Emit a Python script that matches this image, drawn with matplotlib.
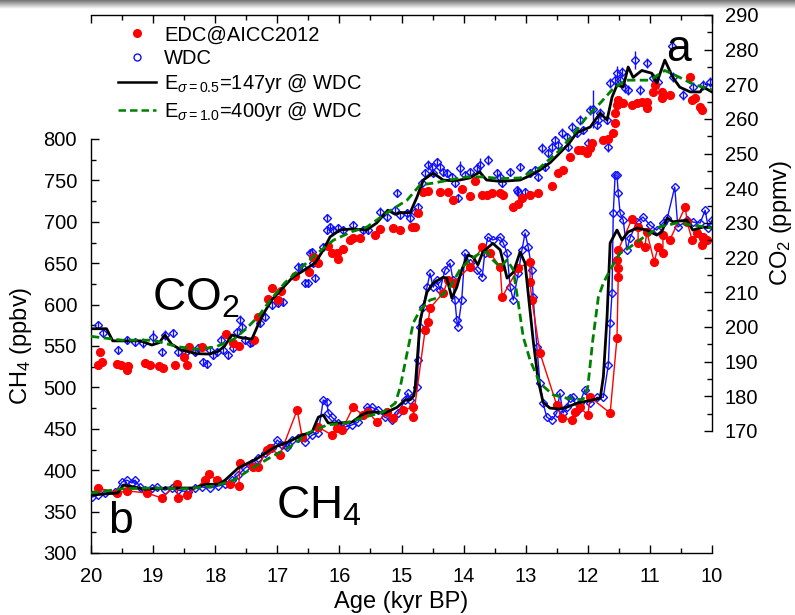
import numpy as np
import matplotlib
matplotlib.use("Agg")
import matplotlib.pyplot as plt
from matplotlib.lines import Line2D
from matplotlib.legend_handler import HandlerLine2D
from matplotlib.ticker import MultipleLocator

plt.rcParams['font.family'] = ['Liberation Sans', 'DejaVu Sans']
plt.rcParams['mathtext.fontset'] = 'custom'
plt.rcParams['mathtext.rm'] = 'Liberation Sans'
plt.rcParams['mathtext.it'] = 'Liberation Sans:italic'
plt.rcParams['mathtext.bf'] = 'Liberation Sans:bold'

# ---------------- CO2 data ----------------
co2_edc_age = [19.89, 19.86, 19.82, 19.58, 19.52, 19.42, 19.40, 19.13, 19.05, 18.90, 18.84, 18.65,
               18.50, 18.45, 18.42, 18.21, 17.83, 17.71, 17.62, 17.38, 17.31, 17.15, 17.09, 16.99,
               16.94, 16.72, 16.49, 16.42, 16.39, 16.34, 16.18, 16.12, 16.04, 16.02, 15.94, 15.83,
               15.78, 15.67, 15.43, 15.35, 15.14, 15.02, 14.83, 14.78, 14.73, 14.65, 14.57, 14.38,
               14.25, 14.17, 14.03, 13.90, 13.82, 13.70, 13.62, 13.54, 13.41, 13.37, 13.20, 13.12,
               13.06, 12.93, 12.80, 12.58, 12.48, 12.40, 12.29, 12.16, 12.10, 12.02, 11.96, 11.93,
               11.75, 11.68, 11.59, 11.56, 11.56, 11.53, 11.51, 11.43, 11.29, 11.21, 11.13, 11.05,
               11.05, 10.95, 10.92, 10.81, 10.81, 10.68, 10.35, 10.32, 10.27, 10.19, 10.16]
co2_edc_val = [189.0, 192.8, 190.0, 189.3, 189.0, 187.6, 188.7, 189.6, 189.0, 188.7, 188.2, 189.0,
               191.3, 189.0, 194.2, 194.2, 198.0, 195.4, 194.5, 196.2, 202.9, 208.0, 211.2, 207.8,
               210.4, 214.7, 215.9, 220.2, 219.9, 218.4, 223.4, 221.3, 221.3, 219.6, 222.5, 225.1,
               225.7, 225.7, 226.5, 228.3, 228.6, 228.0, 228.8, 228.8, 232.9, 238.9, 239.2, 238.9,
               238.9, 236.6, 239.8, 237.8, 242.1, 238.1, 238.1, 238.6, 238.6, 238.1, 234.5, 235.6,
               237.2, 238.1, 238.6, 240.7, 244.4, 245.3, 249.0, 251.0, 251.0, 250.2, 251.6, 253.1,
               253.9, 254.2, 256.0, 258.8, 261.7, 264.0, 265.5, 264.6, 264.0, 264.6, 264.9, 264.9,
               263.2, 267.8, 269.8, 267.8, 266.0, 266.9, 272.1, 265.5, 266.0, 263.5, 262.6]

co2_wdc_age = [19.89, 19.81, 19.57, 19.42, 19.29, 19.16, 19.00, 18.86, 18.81, 18.68, 18.60, 18.49,
               18.33, 18.28, 18.20, 18.13, 18.08, 18.04, 17.97, 17.91, 17.87, 17.79, 17.71, 17.65,
               17.60, 17.57, 17.52, 17.44, 17.41, 17.28, 17.20, 17.09, 16.99, 16.91, 16.67, 16.60,
               16.55, 16.51, 16.47, 16.44, 16.42, 16.39, 16.26, 16.20, 16.20, 16.15, 16.10, 16.02,
               15.94, 15.78, 15.62, 15.54, 15.35, 15.23, 15.10, 15.07, 15.02, 14.91, 14.86, 14.78,
               14.73, 14.67, 14.62, 14.57, 14.51, 14.49, 14.43, 14.38, 14.33, 14.27, 14.19, 14.14,
               14.09, 14.06, 13.98, 13.90, 13.79, 13.74, 13.61, 13.46, 13.41, 13.38, 13.25, 13.14,
               13.12, 13.09, 13.01, 12.93, 12.85, 12.80, 12.74, 12.69, 12.64, 12.58, 12.53, 12.48,
               12.42, 12.34, 12.32, 12.25, 12.18, 12.13, 12.08, 12.00, 11.96, 11.92, 11.85, 11.83,
               11.80, 11.69, 11.67, 11.64, 11.56, 11.53, 11.48, 11.45, 11.40, 11.35, 11.24, 11.16,
               11.05, 10.95, 10.87, 10.64, 10.63, 10.47, 10.31, 10.14, 10.03]
co2_wdc_val = [200.6, 198.3, 193.4, 196.2, 195.7, 195.4, 197.1, 192.8, 197.7, 198.3, 192.8, 192.5,
               192.8, 193.9, 189.9, 189.3, 193.4, 191.9, 192.8, 196.2, 193.4, 191.9, 193.9, 198.6,
               202.0, 200.0, 196.2, 195.4, 195.7, 201.2, 202.9, 206.3, 206.9, 207.2, 217.3, 217.3,
               212.7, 212.7, 221.3, 221.6, 218.5, 214.1, 223.1, 231.4, 228.0, 228.8, 228.0, 228.6,
               228.0, 229.4, 228.0, 228.0, 233.2, 231.7, 233.7, 238.6, 232.3, 232.9, 231.4, 233.2,
               234.6, 241.5, 244.4, 246.7, 246.1, 244.4, 247.6, 246.1, 244.7, 244.4, 243.3, 241.5,
               237.2, 245.9, 243.8, 244.7, 245.9, 246.7, 248.2, 244.4, 243.3, 241.5, 244.7, 239.5,
               238.9, 246.1, 238.9, 244.4, 245.3, 243.3, 251.6, 246.1, 250.2, 251.9, 253.9, 252.5,
               256.0, 254.8, 251.9, 257.7, 256.0, 259.7, 256.8, 253.1, 262.6, 262.9, 258.3, 259.7,
               261.7, 259.7, 251.9, 270.4, 271.2, 273.2, 271.2, 273.5, 269.0, 268.4, 277.0, 268.4,
               276.1, 271.8, 270.7, 281.0, 272.1, 266.9, 269.2, 269.8, 270.7]
co2_wdc_err = [1.2, 1.2, 1.2, 1.2, 1.2, 1.5, 2.0, 1.2, 1.5, 1.2, 1.2, 1.2,
               1.2, 1.2, 1.2, 1.2, 1.2, 1.2, 1.2, 1.5, 1.2, 1.2, 1.2, 1.2,
               1.5, 1.2, 1.2, 1.2, 1.2, 1.2, 1.2, 1.2, 1.2, 1.2, 1.5, 1.2,
               1.2, 1.2, 1.2, 1.2, 1.2, 1.2, 1.2, 1.2, 1.2, 1.2, 1.2, 1.2,
               1.2, 1.2, 1.2, 1.2, 1.5, 1.2, 1.2, 1.2, 1.2, 1.2, 1.2, 1.2,
               1.2, 1.2, 1.2, 1.5, 1.2, 1.2, 1.2, 1.2, 1.2, 1.2, 1.2, 1.2,
               1.2, 2.0, 1.2, 1.2, 1.5, 2.0, 1.5, 1.2, 1.2, 1.2, 1.2, 1.2,
               1.2, 1.2, 1.2, 1.2, 1.2, 1.2, 1.5, 1.2, 1.2, 1.5, 1.2, 1.2,
               1.5, 1.2, 1.2, 1.5, 1.2, 1.5, 1.2, 1.5, 1.5, 5.5, 1.2, 1.2,
               1.5, 1.2, 1.5, 1.5, 1.5, 2.0, 1.5, 1.5, 1.5, 1.5, 2.5, 1.5,
               1.5, 1.5, 2.0, 1.2, 1.5, 1.5, 1.5, 1.5, 1.5]

co2_e05_age = [20.0, 19.75, 19.65, 19.4, 19.2, 19.02, 18.9, 18.81, 18.7, 18.55, 18.3, 18.1, 17.95,
               17.85, 17.73, 17.6, 17.41, 17.3, 17.2, 17.09, 16.9, 16.75, 16.6, 16.39, 16.25, 16.15,
               15.99, 15.8, 15.56, 15.4, 15.22, 15.1, 15.02, 14.86, 14.75, 14.65, 14.49, 14.33, 14.2,
               14.06, 13.9, 13.74, 13.63, 13.4, 13.09, 12.95, 12.77, 12.6, 12.45, 12.3, 12.18, 11.96,
               11.8, 11.69, 11.61, 11.53, 11.43, 11.35, 11.27, 11.13, 10.97, 10.89, 10.76, 10.63,
               10.52, 10.35, 10.19, 10.14, 10.0]
co2_e05_val = [199.5, 199.5, 196.0, 196.0, 196.0, 194.8, 195.5, 197.7, 195.0, 193.4, 192.3, 192.2,
               193.0, 194.5, 197.7, 197.0, 196.5, 201.0, 204.5, 207.8, 211.5, 214.4, 216.0, 218.5,
               222.5, 226.0, 228.0, 228.3, 228.0, 230.0, 233.7, 232.5, 233.0, 233.0, 237.5, 242.4,
               244.4, 242.4, 242.2, 242.4, 243.0, 244.7, 242.4, 242.0, 242.4, 243.5, 245.3, 247.5,
               250.2, 253.0, 256.0, 257.7, 261.7, 259.7, 266.3, 269.8, 269.2, 275.0, 272.0, 274.0,
               273.2, 270.4, 277.0, 272.0, 269.2, 267.8, 267.8, 269.2, 267.8]

co2_e10_age = [20.0, 19.5, 19.0, 18.6, 18.3, 18.0, 17.7, 17.5, 17.31, 17.1, 16.88, 16.65, 16.44,
               16.1, 15.8, 15.56, 15.24, 14.91, 14.7, 14.49, 14.2, 13.95, 13.69, 13.4, 13.09, 12.77,
               12.45, 12.18, 12.0, 11.8, 11.61, 11.4, 11.2, 11.0, 10.76, 10.52, 10.3, 10.0]
co2_e10_val = [197.3, 196.2, 196.2, 194.3, 193.6, 194.2, 196.5, 199.5, 203.0, 208.0, 212.7, 216.5,
               220.0, 225.0, 227.5, 228.8, 232.9, 236.6, 241.0, 241.5, 242.5, 243.3, 243.3, 242.8,
               243.0, 246.0, 251.0, 256.8, 261.0, 264.6, 268.4, 271.2, 271.2, 271.2, 274.0, 272.0,
               270.0, 268.4]

# ---------------- CH4 data ----------------
ch4_edc_age = [19.89, 19.58, 19.42, 19.10, 18.86, 18.62, 18.60, 18.45, 18.16, 18.10, 17.97, 17.76,
               17.62, 17.60, 17.39, 17.31, 17.17, 17.12, 16.96, 16.68, 16.60, 16.34, 16.12, 16.04,
               15.96, 15.78, 15.62, 15.54, 15.39, 15.23, 15.14, 14.98, 14.81, 14.81, 14.62, 14.57,
               14.54, 14.33, 14.25, 14.17, 13.90, 13.70, 13.57, 13.41, 13.38, 13.12, 12.93, 12.93,
               12.90, 12.77, 12.50, 12.42, 12.25, 12.21, 12.13, 12.00, 11.96, 11.64, 11.53, 11.51,
               11.51, 11.53, 11.51, 11.29, 11.19, 11.19, 11.08, 11.05, 10.93, 10.87, 10.79, 10.79,
               10.68, 10.43, 10.40, 10.32, 10.24, 10.16, 10.14, 10.08]
ch4_edc_val = [378.5, 372.5, 375.0, 372.5, 366.4, 383.0, 366.4, 370.0, 388.0, 395.4, 388.0, 383.0,
               381.0, 408.7, 404.0, 404.0, 424.0, 426.8, 418.0, 472.7, 440.0, 452.0, 442.5, 451.0,
               448.5, 476.0, 466.7, 470.0, 458.0, 470.0, 463.0, 472.7, 476.0, 464.0, 569.0, 579.0,
               596.0, 614.0, 629.7, 626.0, 645.4, 669.6, 662.0, 645.4, 609.0, 644.0, 651.5, 627.0,
               605.6, 541.5, 478.7, 463.0, 460.6, 470.0, 476.0, 466.7, 488.0, 469.0, 559.7, 633.0,
               644.0, 654.0, 666.0, 703.0, 693.7, 674.4, 669.6, 687.7, 651.5, 669.6, 662.0, 684.0,
               678.0, 718.0, 699.8, 678.0, 686.5, 672.0, 681.6, 678.0]

ch4_wdc_age = [19.98, 19.89, 19.77, 19.61, 19.50, 19.42, 19.34, 19.29, 19.21, 19.13, 19.02, 18.94,
               18.81, 18.70, 18.60, 18.44, 18.33, 18.21, 18.08, 17.95, 17.84, 17.73, 17.63, 17.52,
               17.41, 17.31, 17.20, 17.09, 17.00, 16.92, 16.84, 16.76, 16.67, 16.55, 16.44, 16.34,
               16.26, 16.20, 16.18, 16.12, 16.02, 15.91, 15.80, 15.70, 15.56, 15.48, 15.38, 15.27,
               15.15, 15.06, 14.94, 14.90, 14.86, 14.75, 14.73, 14.70, 14.65, 14.59, 14.54, 14.49,
               14.43, 14.38, 14.30, 14.22, 14.17, 14.14, 14.11, 14.09, 14.03, 13.98, 13.90, 13.79,
               13.70, 13.66, 13.61, 13.53, 13.41, 13.36, 13.30, 13.25, 13.20, 13.12, 13.06, 13.01,
               12.96, 12.90, 12.88, 12.82, 12.77, 12.72, 12.66, 12.58, 12.50, 12.45, 12.40, 12.34,
               12.29, 12.24, 12.16, 12.13, 12.05, 11.96, 11.85, 11.75, 11.67, 11.64, 11.61, 11.59,
               11.56, 11.53, 11.51, 11.48, 11.43, 11.37, 11.32, 11.21, 11.11, 11.00, 10.89, 10.79,
               10.72, 10.60, 10.55, 10.40, 10.31, 10.19, 10.11, 10.06, 10.00]
ch4_wdc_val = [367.6, 370.0, 372.5, 373.7, 385.7, 388.0, 384.5, 388.0, 379.7, 376.0, 378.5, 379.7,
               376.0, 378.5, 376.0, 373.7, 378.5, 379.7, 378.5, 381.0, 383.0, 388.0, 394.0, 402.6,
               408.7, 414.7, 420.8, 426.8, 436.5, 430.4, 428.0, 436.5, 439.0, 434.0, 442.5, 445.0,
               484.8, 482.4, 469.0, 464.0, 457.0, 452.0, 454.6, 458.0, 476.0, 476.0, 472.7, 464.0,
               460.6, 469.0, 484.8, 493.0, 484.8, 500.5, 533.0, 573.0, 597.0, 621.0, 638.0, 621.0,
               629.7, 617.6, 641.8, 650.0, 629.7, 605.6, 581.4, 573.0, 605.6, 662.0, 650.0, 641.8,
               633.0, 662.0, 681.6, 678.0, 681.6, 674.4, 662.0, 621.0, 605.6, 638.0, 666.0, 686.5,
               669.6, 641.8, 609.0, 548.8, 505.0, 481.0, 464.0, 460.6, 469.0, 493.0, 469.0, 476.0,
               487.0, 488.0, 472.7, 481.0, 497.0, 481.0, 488.0, 488.0, 527.0, 577.8, 614.0, 710.6,
               756.5, 756.5, 734.8, 710.6, 702.0, 666.0, 680.4, 699.8, 705.8, 696.0, 690.0, 698.6,
               704.6, 742.0, 693.7, 702.0, 699.8, 698.6, 714.0, 692.5, 702.0]

ch4_e05_age = [20.0, 19.57, 19.52, 19.48, 19.32, 19.16, 18.76, 18.33, 18.16, 17.95, 17.84, 17.63,
               17.31, 17.04, 16.83, 16.6, 16.44, 16.34, 16.26, 16.18, 16.02, 15.8, 15.64, 15.54,
               15.38, 15.27, 15.07, 14.94, 14.86, 14.8, 14.78, 14.74, 14.7, 14.59, 14.49, 14.33,
               14.27, 14.19, 14.11, 14.03, 13.93, 13.85, 13.77, 13.69, 13.53, 13.41, 13.3, 13.2,
               13.09, 13.01, 12.96, 12.88, 12.8, 12.72, 12.61, 12.45, 12.34, 12.17, 11.92, 11.8,
               11.75, 11.69, 11.64, 11.53, 11.45, 11.35, 11.21, 11.05, 10.89, 10.81, 10.72, 10.63,
               10.4, 10.31, 10.14, 10.0]
ch4_e05_val = [370.0, 372.5, 378.0, 382.0, 380.0, 377.0, 378.5, 378.5, 383.0, 383.0, 388.0, 402.6,
               414.7, 428.0, 434.0, 442.5, 446.0, 464.0, 466.7, 457.0, 457.0, 458.0, 466.7, 470.0,
               470.0, 469.0, 476.0, 484.8, 485.0, 490.0, 500.0, 540.0, 581.0, 615.0, 626.0, 633.0,
               632.0, 608.0, 621.0, 642.0, 660.0, 657.5, 648.0, 663.5, 674.0, 666.0, 632.0, 639.0,
               663.5, 650.0, 614.0, 557.0, 509.0, 482.0, 475.0, 474.0, 476.0, 481.0, 485.0, 487.0,
               512.6, 585.0, 674.4, 690.0, 678.0, 687.7, 692.5, 690.0, 684.0, 687.7, 704.6, 700.0,
               702.0, 690.0, 693.7, 692.5]

ch4_e10_age = [20.0, 19.5, 19.0, 18.5, 18.0, 17.7, 17.4, 17.1, 16.8, 16.5, 16.2, 15.9, 15.6, 15.3,
               15.1, 15.02, 14.91, 14.81, 14.7, 14.54, 14.38, 14.22, 14.06, 13.9, 13.74, 13.62,
               13.53, 13.41, 13.3, 13.2, 13.12, 13.04, 12.93, 12.77, 12.56, 12.34, 12.08, 12.0,
               11.92, 11.83, 11.75, 11.64, 11.48, 11.32, 11.05, 10.84, 10.56, 10.31, 10.0]
ch4_e10_val = [372.5, 377.5, 378.5, 377.5, 381.0, 388.0, 402.6, 416.0, 428.0, 445.0, 454.6, 457.0,
               464.0, 470.0, 481.0, 500.5, 541.5, 578.0, 593.5, 605.5, 609.0, 621.0, 642.0, 654.0,
               662.0, 663.5, 654.0, 645.4, 654.0, 642.0, 602.0, 561.0, 533.0, 505.0, 491.0, 487.0,
               485.0, 500.5, 557.0, 609.0, 626.0, 642.0, 662.0, 669.6, 684.0, 694.0, 698.6, 696.0,
               692.5]

# ---------------- figure ----------------
W, H = 795, 615
fig = plt.figure(figsize=(W / 100, H / 100), dpi=100)

# screenshot-like grey shading at very top
gax = fig.add_axes([0, 1 - 9 / H, 1, 9 / H])
grad = np.linspace(0.45, 1.0, 50).reshape(-1, 1)
gax.imshow(grad, aspect='auto', cmap='gray', vmin=0, vmax=1, extent=[0, 1, 0, 1])
gax.axis('off')

L, R = 91, 712
ax1 = fig.add_axes([L / W, (H - 553) / H, (R - L) / W, (553 - 139) / H])
ax2 = fig.add_axes([L / W, (H - 431) / H, (R - L) / W, (431 - 15) / H], sharex=ax1)
ax2.patch.set_visible(False)
ax1.patch.set_visible(False)

BLUE = '#1010ff'
RED = '#ff0000'
GREEN = '#008000'

# CH4
ax1.plot(ch4_wdc_age, ch4_wdc_val, '-', color=BLUE, lw=1.0, marker='D', ms=4.5,
         mfc='none', mec=BLUE, mew=1.0, zorder=2)
ax1.plot(ch4_edc_age, ch4_edc_val, '-', color=RED, lw=1.0, marker='o', ms=5.6,
         mfc=RED, mec=RED, zorder=3)
ax1.plot(ch4_e05_age, ch4_e05_val, '-', color='black', lw=2.0, zorder=4)
ax1.plot(ch4_e10_age, ch4_e10_val, '--', color=GREEN, lw=2.0, dashes=(3, 1.6), zorder=5)

# CO2
ax2.errorbar(co2_wdc_age, co2_wdc_val, yerr=co2_wdc_err, fmt='D', ms=4.5, mfc='none',
             mec=BLUE, mew=1.0, ecolor=BLUE, elinewidth=1.0, capsize=0, zorder=2)
ax2.plot(co2_edc_age, co2_edc_val, 'o', ms=5.6, color=RED, zorder=3)
ax2.plot(co2_e05_age, co2_e05_val, '-', color='black', lw=2.0, zorder=4)
ax2.plot(co2_e10_age, co2_e10_val, '--', color=GREEN, lw=2.0, dashes=(3, 1.6), zorder=5)

ax1.set_xlim(20, 10)
ax1.set_ylim(300, 800)
ax2.set_ylim(170, 290)

for s in ['top', 'right']:
    ax1.spines[s].set_visible(False)
for s in ['left', 'bottom']:
    ax2.spines[s].set_visible(False)
for a in (ax1, ax2):
    for s in a.spines.values():
        s.set_linewidth(1.0)

ax1.xaxis.set_major_locator(MultipleLocator(1))
ax1.xaxis.set_minor_locator(MultipleLocator(0.5))
ax1.yaxis.set_major_locator(MultipleLocator(50))
ax1.yaxis.set_minor_locator(MultipleLocator(25))
ax2.yaxis.set_major_locator(MultipleLocator(10))
ax2.yaxis.set_minor_locator(MultipleLocator(5))

FS = 14.5
ax1.tick_params(axis='both', which='both', direction='in', labelsize=FS)
ax1.tick_params(axis='y', which='both', pad=10)
ax1.tick_params(axis='x', which='both', pad=10)
ax1.tick_params(which='major', length=6, width=1)
ax1.tick_params(which='minor', length=3.5, width=1)
ax1.tick_params(left=True, bottom=True, top=False, right=False)
ax2.tick_params(axis='both', which='both', direction='in', labelsize=FS, pad=9,
                left=False, labelleft=False, right=True, labelright=True,
                bottom=False, labelbottom=False, top=True, labeltop=False)
ax2.tick_params(which='major', length=6, width=1)
ax2.tick_params(which='minor', length=3.5, width=1)

ax1.set_xlabel('Age (kyr BP)', fontsize=17, labelpad=4)
ax1.set_ylabel('CH$_4$ (ppbv)', fontsize=17, labelpad=7)
ax2.yaxis.set_label_position('right')
ax2.set_ylabel('CO$_2$ (ppmv)', fontsize=17, labelpad=7)

# Big annotations
fig.text(152 / W, 1 - 310 / H, 'CO$_2$', fontsize=33, ha='left', va='baseline')
fig.text(276 / W, 1 - 518 / H, 'CH$_4$', fontsize=33, ha='left', va='baseline')
fig.text(666 / W, 1 - 61 / H, 'a', fontsize=32, ha='left', va='baseline')
fig.text(108 / W, 1 - 533 / H, 'b', fontsize=32, ha='left', va='baseline')


class LeftMarkerHandler(HandlerLine2D):
    def get_xdata(self, legend, xdescent, ydescent, width, height, fontsize):
        xdata, _ = super().get_xdata(legend, xdescent, ydescent, width, height, fontsize)
        return xdata, np.array([-xdescent - 0.33 * width])


h_edc = Line2D([], [], ls='none', marker='o', ms=5.5, color=RED)
h_wdc = Line2D([], [], ls='none', marker='o', ms=5, mfc='none', mec=BLUE, mew=1.0)
h_e05 = Line2D([], [], color='black', lw=1.8)
h_e10 = Line2D([], [], color=GREEN, lw=1.8, ls='--', dashes=(3, 1.6))
leg = ax2.legend([h_edc, h_wdc, h_e05, h_e10],
                 ['EDC@AICC2012', 'WDC', r'E$_{\sigma=0.5}$=147yr @ WDC',
                  r'E$_{\sigma=1.0}$=400yr @ WDC'],
                 loc='upper left', bbox_to_anchor=((118 - L) / (R - L), 0.975),
                 frameon=False, fontsize=14.5, handlelength=1.9, handletextpad=0.4,
                 labelspacing=0.22, borderpad=0, borderaxespad=0, numpoints=1,
                 handler_map={h_edc: LeftMarkerHandler(), h_wdc: LeftMarkerHandler()})

fig.savefig('out.png', dpi=100)
